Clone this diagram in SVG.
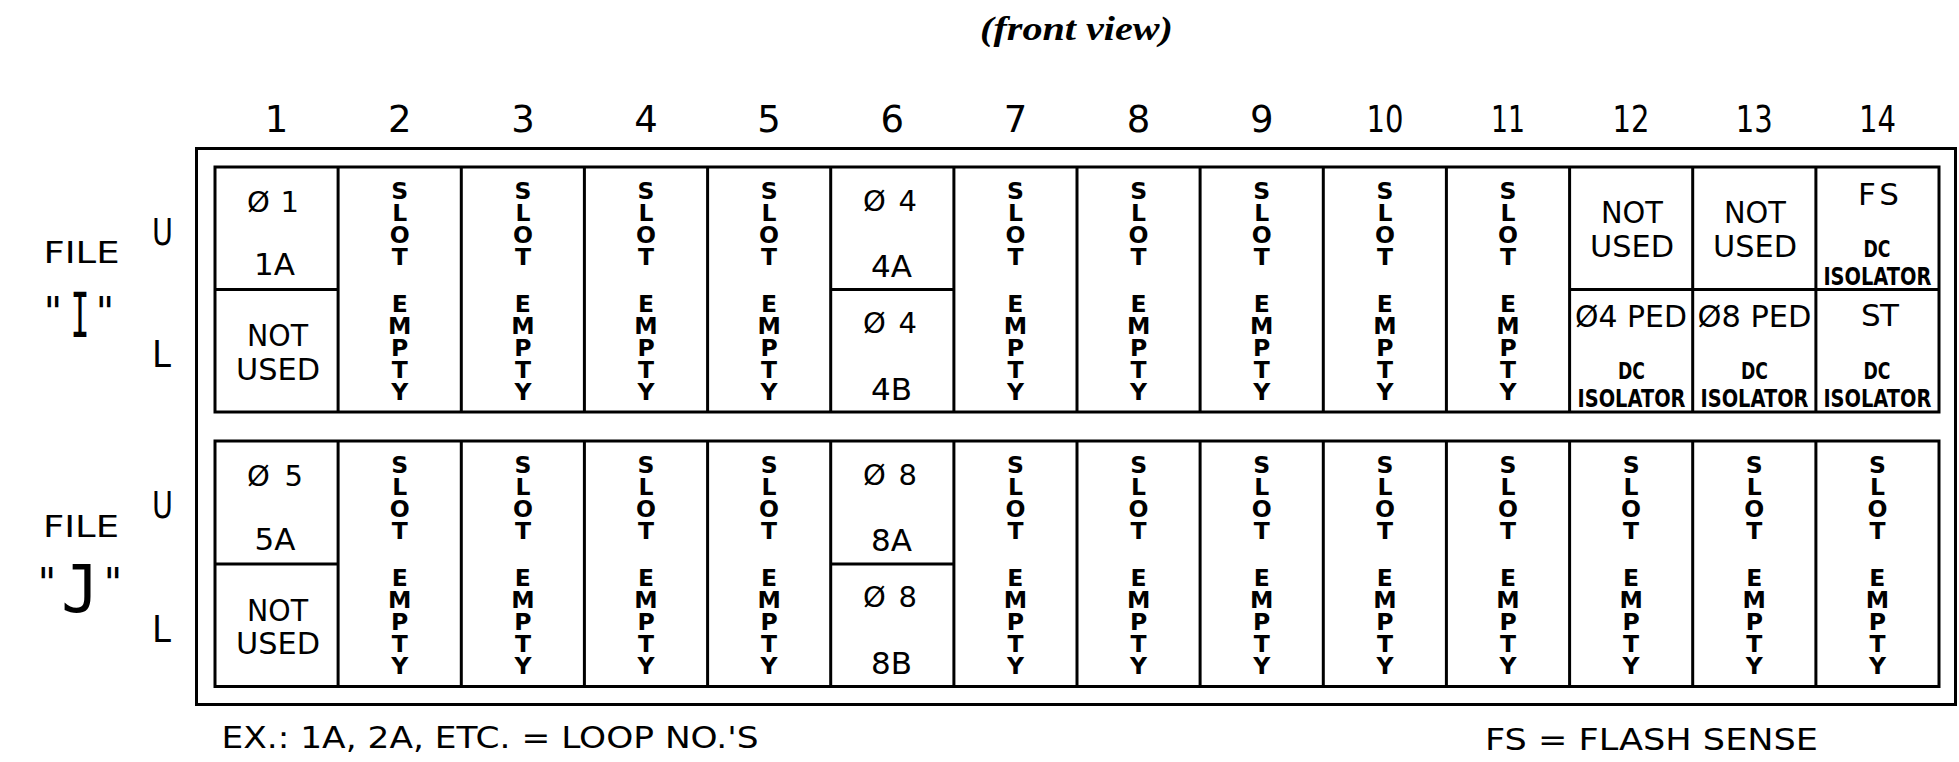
<svg xmlns="http://www.w3.org/2000/svg" width="1959" height="762" viewBox="0 0 1959 762">
<style>
.ln{fill:none;stroke:#000;stroke-width:3}
.t{font-family:"DejaVu Sans","Liberation Sans",sans-serif;fill:#000;text-anchor:middle}
.num{font-size:37px}
.lbl{font-size:31px}
.ph{font-size:29px}
.v{font-size:23.5px;font-weight:bold}
.sm{font-size:23px;font-weight:bold}
.iso{font-size:24px;font-weight:bold}
.q{font-size:40px}
.mono{font-family:"DejaVu Sans Mono",monospace;fill:#000;text-anchor:middle}
.title{font-family:"Liberation Serif",serif;font-weight:bold;font-style:italic;font-size:34px;fill:#000;text-anchor:middle}
</style>
<rect width="1959" height="762" fill="#fff"/>
<text class="title" x="1076.5" y="40" textLength="193" lengthAdjust="spacingAndGlyphs">(front view)</text>

<g id="column-numbers" class="t num">
<text x="276.6" y="132">1</text>
<text x="399.7" y="132">2</text>
<text x="522.9" y="132">3</text>
<text x="646" y="132">4</text>
<text x="769.1" y="132">5</text>
<text x="892.3" y="132">6</text>
<text x="1015.4" y="132">7</text>
<text x="1138.6" y="132">8</text>
<text x="1261.7" y="132">9</text>
<text x="1384.9" y="132" textLength="37" lengthAdjust="spacingAndGlyphs">10</text>
<text x="1508" y="132" textLength="34" lengthAdjust="spacingAndGlyphs">11</text>
<text x="1631.1" y="132" textLength="37" lengthAdjust="spacingAndGlyphs">12</text>
<text x="1754.3" y="132" textLength="37" lengthAdjust="spacingAndGlyphs">13</text>
<text x="1877.4" y="132" textLength="37" lengthAdjust="spacingAndGlyphs">14</text>
</g>

<g id="file-I-label">
<text class="t lbl" x="81.5" y="263" textLength="76" lengthAdjust="spacingAndGlyphs">FILE</text>
<text class="t q" x="53" y="326">"</text>
<text class="mono" font-size="63" transform="translate(80,337) scale(0.5,1)">I</text>
<text class="t q" x="105" y="326">"</text>
<text class="t" font-size="37" x="162.5" y="245" textLength="21" lengthAdjust="spacingAndGlyphs">U</text>
<text class="t" font-size="37" x="161.5" y="367" textLength="19" lengthAdjust="spacingAndGlyphs">L</text>
</g>

<g id="file-J-label">
<text class="t lbl" x="81" y="537" textLength="76" lengthAdjust="spacingAndGlyphs">FILE</text>
<text class="t q" x="47" y="597">"</text>
<text class="mono" font-size="66" transform="translate(80,612) scale(0.95,1)">J</text>
<text class="t q" x="113" y="597">"</text>
<text class="t" font-size="37" x="162.5" y="518" textLength="21" lengthAdjust="spacingAndGlyphs">U</text>
<text class="t" font-size="37" x="161.5" y="642" textLength="19" lengthAdjust="spacingAndGlyphs">L</text>
</g>

<g id="frame" class="ln">
<rect x="196.5" y="148.5" width="1759" height="556"/>
<rect x="215" y="167" width="1724" height="245"/>
<rect x="215" y="441" width="1724" height="245.5"/>
<path d="M338.1 167V412M461.3 167V412M584.4 167V412M707.6 167V412M830.7 167V412M953.9 167V412M1077 167V412M1200.1 167V412M1323.3 167V412M1446.4 167V412M1569.6 167V412M1692.7 167V412M1815.9 167V412"/>
<path d="M338.1 441V686.5M461.3 441V686.5M584.4 441V686.5M707.6 441V686.5M830.7 441V686.5M953.9 441V686.5M1077 441V686.5M1200.1 441V686.5M1323.3 441V686.5M1446.4 441V686.5M1569.6 441V686.5M1692.7 441V686.5M1815.9 441V686.5"/>
<path d="M215 289.5H338.1M830.7 289.5H953.9M1569.6 289.5H1939M215 564H338.1M830.7 564H953.9"/>
</g>

<g id="file-I-slot1" class="t">
<text class="ph" x="273" y="211.7" textLength="52" lengthAdjust="spacing">Ø 1</text>
<text class="lbl" x="274.5" y="275" font-size="30">1A</text>
<text class="lbl" x="277.5" y="346.3" textLength="61" lengthAdjust="spacingAndGlyphs">NOT</text>
<text class="lbl" x="278" y="379.6" textLength="84" lengthAdjust="spacingAndGlyphs">USED</text>
</g>

<g id="file-I-slot6" class="t">
<text class="ph" x="890" y="210.7" textLength="54" lengthAdjust="spacing">Ø 4</text>
<text class="lbl" x="891.5" y="277.3" font-size="30">4A</text>
<text class="ph" x="890" y="333" textLength="54" lengthAdjust="spacing">Ø 4</text>
<text class="lbl" x="891.5" y="400" font-size="30">4B</text>
</g>

<g id="file-I-empty" class="t v">
<text x="399.7 399.7 399.7 399.7" y="199 221 243 265">SLOT</text>
<text x="399.7 399.7 399.7 399.7 399.7" y="311.5 333.5 355.5 378 400">EMPTY</text>
<text x="522.9 522.9 522.9 522.9" y="199 221 243 265">SLOT</text>
<text x="522.9 522.9 522.9 522.9 522.9" y="311.5 333.5 355.5 378 400">EMPTY</text>
<text x="646 646 646 646" y="199 221 243 265">SLOT</text>
<text x="646 646 646 646 646" y="311.5 333.5 355.5 378 400">EMPTY</text>
<text x="769.1 769.1 769.1 769.1" y="199 221 243 265">SLOT</text>
<text x="769.1 769.1 769.1 769.1 769.1" y="311.5 333.5 355.5 378 400">EMPTY</text>
<text x="1015.4 1015.4 1015.4 1015.4" y="199 221 243 265">SLOT</text>
<text x="1015.4 1015.4 1015.4 1015.4 1015.4" y="311.5 333.5 355.5 378 400">EMPTY</text>
<text x="1138.6 1138.6 1138.6 1138.6" y="199 221 243 265">SLOT</text>
<text x="1138.6 1138.6 1138.6 1138.6 1138.6" y="311.5 333.5 355.5 378 400">EMPTY</text>
<text x="1261.7 1261.7 1261.7 1261.7" y="199 221 243 265">SLOT</text>
<text x="1261.7 1261.7 1261.7 1261.7 1261.7" y="311.5 333.5 355.5 378 400">EMPTY</text>
<text x="1384.9 1384.9 1384.9 1384.9" y="199 221 243 265">SLOT</text>
<text x="1384.9 1384.9 1384.9 1384.9 1384.9" y="311.5 333.5 355.5 378 400">EMPTY</text>
<text x="1508 1508 1508 1508" y="199 221 243 265">SLOT</text>
<text x="1508 1508 1508 1508 1508" y="311.5 333.5 355.5 378 400">EMPTY</text>
</g>

<g id="file-I-slot12" class="t">
<text class="lbl" x="1632" y="223.3" textLength="62" lengthAdjust="spacingAndGlyphs">NOT</text>
<text class="lbl" x="1632" y="256.7" textLength="84" lengthAdjust="spacingAndGlyphs">USED</text>
<text class="lbl" x="1631" y="326.7" textLength="112" lengthAdjust="spacingAndGlyphs">Ø4 PED</text>
<text class="sm" x="1631.5" y="379" textLength="27" lengthAdjust="spacingAndGlyphs">DC</text>
<text class="iso" x="1631.5" y="407.3" textLength="108" lengthAdjust="spacingAndGlyphs">ISOLATOR</text>
</g>

<g id="file-I-slot13" class="t">
<text class="lbl" x="1755" y="223.3" textLength="62" lengthAdjust="spacingAndGlyphs">NOT</text>
<text class="lbl" x="1755" y="256.7" textLength="84" lengthAdjust="spacingAndGlyphs">USED</text>
<text class="lbl" x="1754.5" y="326.7" textLength="114" lengthAdjust="spacingAndGlyphs">Ø8 PED</text>
<text class="sm" x="1754.5" y="379" textLength="27" lengthAdjust="spacingAndGlyphs">DC</text>
<text class="iso" x="1754.5" y="407.3" textLength="108" lengthAdjust="spacingAndGlyphs">ISOLATOR</text>
</g>

<g id="file-I-slot14" class="t">
<text class="lbl" x="1878.5" y="205" textLength="41" lengthAdjust="spacing">FS</text>
<text class="sm" x="1877" y="256.5" textLength="27" lengthAdjust="spacingAndGlyphs">DC</text>
<text class="iso" x="1877.4" y="285" textLength="108" lengthAdjust="spacingAndGlyphs">ISOLATOR</text>
<text class="lbl" x="1880" y="326" textLength="38" lengthAdjust="spacing">ST</text>
<text class="sm" x="1877" y="379" textLength="27" lengthAdjust="spacingAndGlyphs">DC</text>
<text class="iso" x="1877.4" y="407.3" textLength="108" lengthAdjust="spacingAndGlyphs">ISOLATOR</text>
</g>

<g id="file-J-slot1" class="t">
<text class="ph" x="275" y="485.5" textLength="56" lengthAdjust="spacing">Ø 5</text>
<text class="lbl" x="275" y="550" font-size="30">5A</text>
<text class="lbl" x="277.5" y="620.5" textLength="61" lengthAdjust="spacingAndGlyphs">NOT</text>
<text class="lbl" x="278" y="653.8" textLength="84" lengthAdjust="spacingAndGlyphs">USED</text>
</g>

<g id="file-J-slot6" class="t">
<text class="ph" x="890" y="485" textLength="54" lengthAdjust="spacing">Ø 8</text>
<text class="lbl" x="891.5" y="551" font-size="30">8A</text>
<text class="ph" x="890" y="607" textLength="54" lengthAdjust="spacing">Ø 8</text>
<text class="lbl" x="891.5" y="674" font-size="30">8B</text>
</g>

<g id="file-J-empty" class="t v">
<text x="399.7 399.7 399.7 399.7" y="473 495 517 539">SLOT</text>
<text x="399.7 399.7 399.7 399.7 399.7" y="585.5 607.5 629.5 652 674">EMPTY</text>
<text x="522.9 522.9 522.9 522.9" y="473 495 517 539">SLOT</text>
<text x="522.9 522.9 522.9 522.9 522.9" y="585.5 607.5 629.5 652 674">EMPTY</text>
<text x="646 646 646 646" y="473 495 517 539">SLOT</text>
<text x="646 646 646 646 646" y="585.5 607.5 629.5 652 674">EMPTY</text>
<text x="769.1 769.1 769.1 769.1" y="473 495 517 539">SLOT</text>
<text x="769.1 769.1 769.1 769.1 769.1" y="585.5 607.5 629.5 652 674">EMPTY</text>
<text x="1015.4 1015.4 1015.4 1015.4" y="473 495 517 539">SLOT</text>
<text x="1015.4 1015.4 1015.4 1015.4 1015.4" y="585.5 607.5 629.5 652 674">EMPTY</text>
<text x="1138.6 1138.6 1138.6 1138.6" y="473 495 517 539">SLOT</text>
<text x="1138.6 1138.6 1138.6 1138.6 1138.6" y="585.5 607.5 629.5 652 674">EMPTY</text>
<text x="1261.7 1261.7 1261.7 1261.7" y="473 495 517 539">SLOT</text>
<text x="1261.7 1261.7 1261.7 1261.7 1261.7" y="585.5 607.5 629.5 652 674">EMPTY</text>
<text x="1384.9 1384.9 1384.9 1384.9" y="473 495 517 539">SLOT</text>
<text x="1384.9 1384.9 1384.9 1384.9 1384.9" y="585.5 607.5 629.5 652 674">EMPTY</text>
<text x="1508 1508 1508 1508" y="473 495 517 539">SLOT</text>
<text x="1508 1508 1508 1508 1508" y="585.5 607.5 629.5 652 674">EMPTY</text>
<text x="1631.1 1631.1 1631.1 1631.1" y="473 495 517 539">SLOT</text>
<text x="1631.1 1631.1 1631.1 1631.1 1631.1" y="585.5 607.5 629.5 652 674">EMPTY</text>
<text x="1754.3 1754.3 1754.3 1754.3" y="473 495 517 539">SLOT</text>
<text x="1754.3 1754.3 1754.3 1754.3 1754.3" y="585.5 607.5 629.5 652 674">EMPTY</text>
<text x="1877.4 1877.4 1877.4 1877.4" y="473 495 517 539">SLOT</text>
<text x="1877.4 1877.4 1877.4 1877.4 1877.4" y="585.5 607.5 629.5 652 674">EMPTY</text>
</g>

<g id="notes" class="t lbl">
<text x="490" y="748" textLength="537" lengthAdjust="spacingAndGlyphs">EX.: 1A, 2A, ETC. = LOOP NO.'S</text>
<text x="1651.5" y="750" textLength="333" lengthAdjust="spacingAndGlyphs">FS = FLASH SENSE</text>
</g>
</svg>
